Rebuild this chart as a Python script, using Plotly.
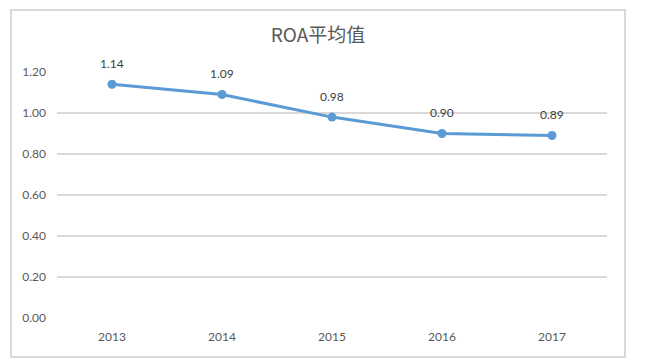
import plotly.graph_objects as go

years = ["2013", "2014", "2015", "2016", "2017"]
roa = [1.14, 1.09, 0.98, 0.90, 0.89]
roa_labels = ["1.14", "1.09", "0.98", "0.90", "0.89"]
y_ticks = [0, 0.2, 0.4, 0.6, 0.8, 1.0, 1.2]
y_tick_labels = ["0.00", "0.20", "0.40", "0.60", "0.80", "1.00", "1.20"]

W, H = 645, 362
L, R, T, B = 57, 38, 72, 44
pw, ph = W - L - R, H - T - B

fig = go.Figure()
fig.add_trace(go.Scatter(
    x=years, y=roa, mode="lines+markers",
    line=dict(color="#5b9bd5", width=3),
    marker=dict(color="#5b9bd5", size=9),
    hoverinfo="skip", showlegend=False,
))

for i, (y, t) in enumerate(zip(roa, roa_labels)):
    fig.add_annotation(x=i, y=y, xref="x", yref="y", text=t, showarrow=False, yshift=21,
                       font=dict(family="Lato, Noto Sans CJK SC", size=12, color="#404040"))

def px2paper_x(px):
    return (px - L) / pw

def px2paper_y(py):
    return (H - B - py) / ph

fig.add_shape(type="rect", xref="paper", yref="paper",
              x0=px2paper_x(11), x1=px2paper_x(625),
              y0=px2paper_y(357), y1=px2paper_y(10),
              line=dict(color="#d9d9d9", width=2), fillcolor="rgba(0,0,0,0)", layer="below")

fig.update_layout(
    width=W, height=H,
    margin=dict(l=L, r=R, t=T, b=B),
    paper_bgcolor="white", plot_bgcolor="white",
    title=dict(text="ROA平均值", x=px2paper_x(318), xref="paper", xanchor="center",
               y=1 - 35 / H, yref="container", yanchor="middle",
               font=dict(family="Noto Sans CJK SC", size=19, color="#595959")),
    xaxis=dict(type="category", showgrid=False, zeroline=False, showline=False,
               ticks="", ticklabelstandoff=10, range=[-0.5, 4.5],
               tickfont=dict(family="Lato, Noto Sans CJK SC", size=12, color="#595959")),
    yaxis=dict(range=[0, 1.2], tickvals=y_ticks, ticktext=y_tick_labels,
               showgrid=True, gridcolor="#d9d9d9", gridwidth=2, zeroline=False,
               showline=False, ticks="", ticklabelstandoff=10,
               tickfont=dict(family="Lato, Noto Sans CJK SC", size=12, color="#595959")),
)

fig.write_html("out.html", config={"displayModeBar": False},
               post_script="document.body.style.margin='0';")
